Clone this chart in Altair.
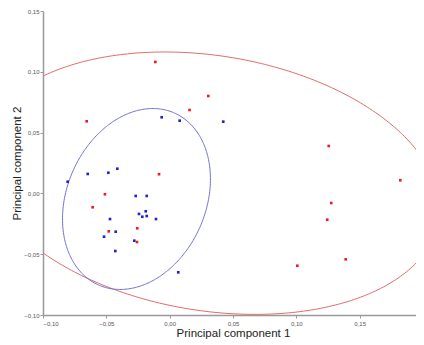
import numpy as np
import pandas as pd
import altair as alt

# Scatter points (PC1, PC2)
blue_x = [-0.0063, 0.0079, 0.0423, -0.0647, -0.0484, -0.0413, -0.0805, -0.0268, -0.0181, -0.0189,
          -0.0242, -0.0216, -0.0181, -0.0108, -0.0471, -0.0426, -0.0518, -0.0279, -0.0429, 0.0068]
blue_y = [0.0626, 0.0598, 0.0590, 0.0160, 0.0170, 0.0203, 0.0096, -0.0021, -0.0021, -0.0147,
          -0.0169, -0.0192, -0.0186, -0.0211, -0.0211, -0.0315, -0.0356, -0.0389, -0.0474, -0.0649]
red_x = [-0.0113, 0.0157, 0.0305, -0.0655, -0.0084, -0.0511, -0.0608, -0.0256, -0.0481, -0.0258,
         0.1256, 0.1821, 0.1276, 0.1244, 0.1390, 0.1008]
red_y = [0.1081, 0.0686, 0.0801, 0.0593, 0.0158, -0.0007, -0.0114, -0.0287, -0.0312, -0.0400,
         0.0390, 0.0108, -0.0079, -0.0216, -0.0542, -0.0595]

# Confidence ellipses: centre, spread along x and y, correlation
ell_names = ["red", "blue"]
ell_cx = [0.0318, -0.0262]
ell_cy = [0.0084, -0.0046]
ell_sx = [0.1814, 0.0584]
ell_sy = [0.1079, 0.0744]
ell_rho = [-0.196, 0.221]

x_ticks = [-0.10, -0.05, 0.0, 0.05, 0.10, 0.15, 0.20]
y_ticks = [-0.10, -0.05, 0.0, 0.05, 0.10, 0.15]

pts = pd.DataFrame({
    "x": blue_x + red_x,
    "y": blue_y + red_y,
    "grp": ["blue"] * len(blue_x) + ["red"] * len(red_x),
})

t = np.linspace(0, 2 * np.pi, 361)
rows = []
for n, cx, cy, sx, sy, r in zip(ell_names, ell_cx, ell_cy, ell_sx, ell_sy, ell_rho):
    for i, tt in enumerate(t):
        rows.append({
            "grp": n, "i": i,
            "x": cx + sx * np.cos(tt),
            "y": cy + sy * (r * np.cos(tt) + np.sqrt(1 - r * r) * np.sin(tt)),
        })
ell = pd.DataFrame(rows)

lab = "replace(format(datum.value, '.2f'), '.', ',')"
# plot area keeps the reference's scale; the right part past the page edge is cut
xs = alt.Scale(domain=[-0.10, 0.1945], nice=False, zero=False)
ys = alt.Scale(domain=[-0.10, 0.15], nice=False, zero=False)

axis_common = dict(
    grid=False, domainColor="#999999", domainWidth=1.5, tickColor="#999999",
    tickSize=3, labelFontSize=6, labelColor="#555555", labelFont="Liberation Sans",
    titleFont="Liberation Sans", titleFontSize=11.5, titleFontWeight="normal",
    titleColor="#222222", labelExpr=lab, titleBaseline="middle",
)

xenc = alt.X("x:Q", scale=xs, axis=alt.Axis(values=x_ticks, title="Principal component 1",
                                            labelPadding=2, titleX=190, titleY=18,
                                            titleAlign="center", **axis_common))
yenc = alt.Y("y:Q", scale=ys, axis=alt.Axis(values=y_ticks, title="Principal component 2",
                                            labelPadding=1, titleX=-26, titleY=152,
                                            titleAlign="center", titleAngle=270, **axis_common))

lines = alt.Chart(ell).mark_line(clip=True, strokeWidth=1).encode(
    x=xenc, y=yenc, detail="grp:N", order="i:Q",
    color=alt.Color("grp:N", scale=alt.Scale(domain=["red", "blue"], range=["#e06c6c", "#7070d4"]), legend=None),
)

points = alt.Chart(pts).mark_square(size=7, opacity=1).encode(
    x=xenc, y=yenc,
    color=alt.Color("grp:N", scale=alt.Scale(domain=["red", "blue"], range=["#ee1c1c", "#2222cc"]), legend=None),
)

chart = alt.layer(lines, points).resolve_scale(color="independent").properties(
    width=373, height=304,
    autosize=alt.AutoSizeParams(type="none"),
    padding={"left": 35, "top": 3, "right": 0, "bottom": 30},
).configure_view(stroke=None, strokeWidth=0)

chart.save("out.html", embed_options={"renderer": "svg", "actions": False})
